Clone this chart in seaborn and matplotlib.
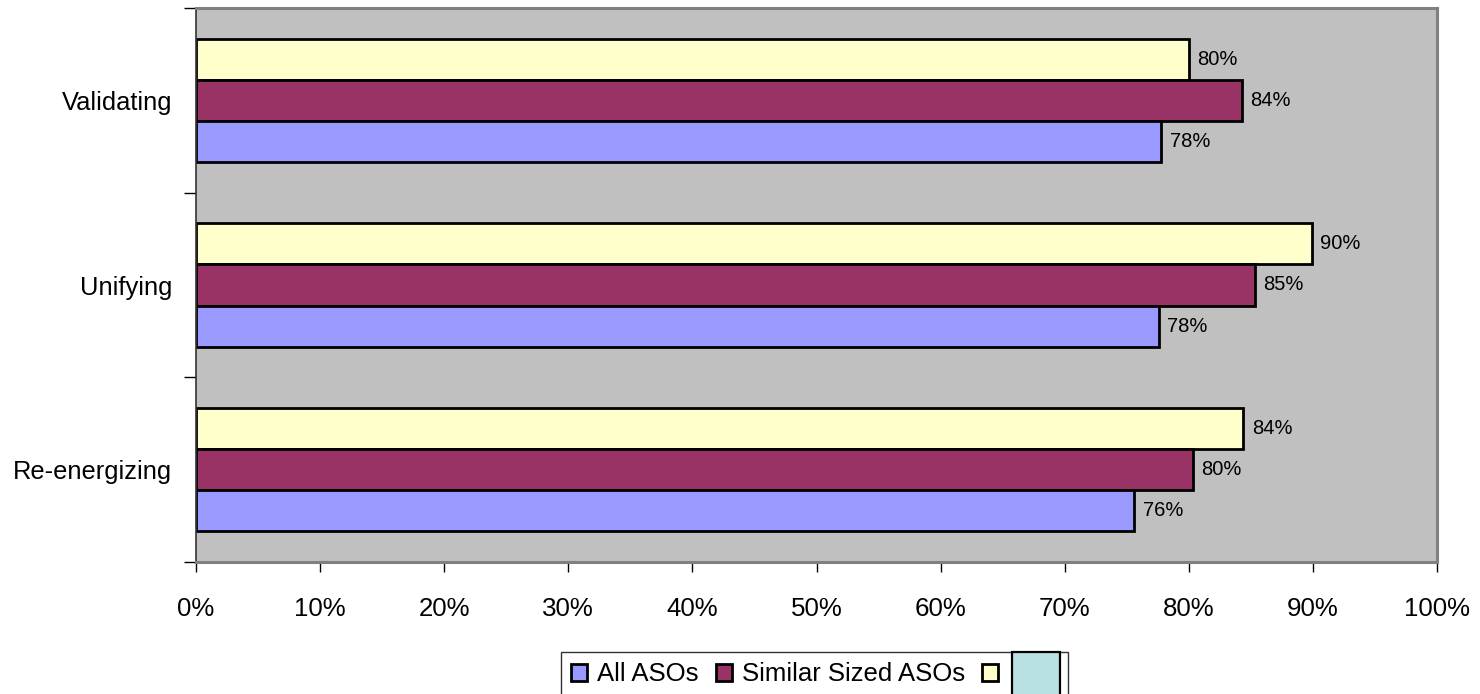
import matplotlib
matplotlib.use("Agg")
import matplotlib.pyplot as plt
from matplotlib.patches import Rectangle
from matplotlib.ticker import PercentFormatter, FixedLocator, NullFormatter
import seaborn as sns
import pandas as pd

# Categories, top to bottom
categories = ["Validating", "Unifying", "Re-energizing"]

# Share of respondents per category (fractions)
all_asos = [0.778, 0.776, 0.756]
similar_sized = [0.843, 0.853, 0.803]
third_group = [0.800, 0.899, 0.844]

series_names = ["All ASOs", "Similar Sized ASOs", "\u00a0" * 7]
series_values = [all_asos, similar_sized, third_group]
series_colors = ["#9999FF", "#993366", "#FFFFCC"]

x_ticks = [0.0, 0.1, 0.2, 0.3, 0.4, 0.5, 0.6, 0.7, 0.8, 0.9, 1.0]

rows = []
for name, vals in zip(series_names, series_values):
    for cat, v in zip(categories, vals):
        rows.append({"category": cat, "series": name, "value": v})
df = pd.DataFrame(rows)

sns.set_theme(style="white")
plt.rcParams["font.family"] = ["Liberation Sans", "DejaVu Sans"]
plt.rcParams["text.color"] = "black"

fig = plt.figure(figsize=(14.8, 6.94), dpi=100)
ax = fig.add_axes([196 / 1480, 1 - 562 / 694, (1437 - 196) / 1480, (562 - 8) / 694])
ax.set_facecolor("#C0C0C0")

# Top-to-bottom order inside each group: third, similar, all
hue_order = series_names[::-1]
palette = dict(zip(series_names, series_colors))
sns.barplot(data=df, y="category", x="value", hue="series", order=categories,
            hue_order=hue_order, palette=palette, orient="h", width=0.667,
            gap=0, edgecolor="black", linewidth=2.0, saturation=1,
            legend=False, ax=ax)

for cont in ax.containers:
    ax.bar_label(cont, fmt=lambda v: f"{v:.0%}", padding=6, fontsize=14.5,
                 color="black")

ax.set_xlim(0, 1)
ax.set_ylim(2.5, -0.5)
ax.xaxis.set_major_locator(FixedLocator(x_ticks))
ax.xaxis.set_major_formatter(PercentFormatter(1.0, decimals=0))
ax.set_xlabel("")
ax.set_ylabel("")

# Ticks at category boundaries, labels at category centres
ax.yaxis.set_major_locator(FixedLocator([-0.5, 0.5, 1.5, 2.5]))
ax.yaxis.set_major_formatter(NullFormatter())
ax.yaxis.set_minor_locator(FixedLocator([0, 1, 2]))
ax.set_yticklabels(categories, minor=True)
ax.tick_params(axis="y", which="major", direction="out", length=9, width=1,
               color="black", left=True)
ax.tick_params(axis="y", which="minor", length=0, pad=17, labelsize=18.4,
               labelcolor="black")
ax.tick_params(axis="x", which="major", direction="out", length=7, width=1,
               color="black", bottom=True, pad=18, labelsize=18.6,
               labelcolor="black")

for side in ["top", "right", "bottom"]:
    ax.spines[side].set_color("#808080")
    ax.spines[side].set_linewidth(2.2)
ax.spines["left"].set_color("#333333")
ax.spines["left"].set_linewidth(1.2)

handles = [Rectangle((0, 0), 1, 1, facecolor=c, edgecolor="black", linewidth=2)
           for c in series_colors]
leg = ax.legend(handles, series_names, loc="upper left",
                bbox_to_anchor=(561 / 1480, 1 - 652 / 694),
                bbox_transform=fig.transFigure, ncol=3, fontsize=18.5,
                labelcolor="black", frameon=True, fancybox=False,
                edgecolor="black", handlelength=0.62, handleheight=0.62,
                handletextpad=0.4, columnspacing=0.65, borderpad=0.4,
                borderaxespad=0)
leg.get_frame().set_linewidth(1.0)

# Light turquoise box over the last legend label
fig.add_artist(Rectangle((1012 / 1480, 1 - 720 / 694), 48 / 1480, 68 / 694,
                         transform=fig.transFigure, facecolor="#B9E1E4",
                         edgecolor="black", linewidth=1.6, zorder=5))

fig.savefig("out.png", dpi=100)
